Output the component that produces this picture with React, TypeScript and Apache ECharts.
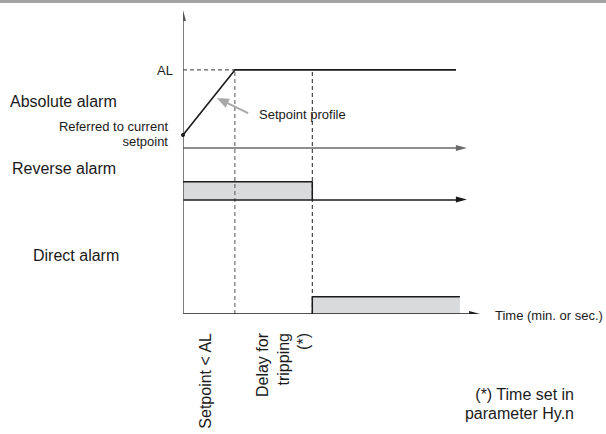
import React, { useEffect, useRef } from "react";
import * as echarts from "echarts";

// ---- data (time units on x, signal level on y) ----
const timeMarks = [1.73, 4.31]; // setpoint reaches AL ; tripping after delay
const alLevel = 80.3;
const setpointTimes = [0, 1.73, 9.1];
const setpointValues = [58.9, 80.3, 80.3];
const reverseTimes = [0, 4.31];
const reverseLevels = [37.7, 43.5];
const directTimes = [4.31, 9.23];
const directLevels = [0, 5.7];
const baselineLevels = [54.6, 37.7, 0]; // absolute, reverse, direct
const baselineEnds = [9.28, 9.28, 9.72];
const baselineColors = ["#6a6a6a", "#1a1a1a", "#1a1a1a"];
const verticalAxisEnd = 98.2;
const pointerFrom = [2.17, 66.1];
const pointerTo = [1.31, 70.2];

const FONT = '"Liberation Sans", Arial, Helvetica, sans-serif';
const INK = "#1a1a1a";
const FILL = "#d9dadc";

export default function App() {
  const ref = useRef<HTMLDivElement>(null);
  useEffect(() => {
    if (!ref.current) return;
    const chart = echarts.init(ref.current, null, { renderer: "svg" });

    const txt = (
      text: string,
      x: number,
      y: number,
      size: number,
      align: string,
      extra: any = {}
    ) => ({
      type: "text",
      x,
      y,
      z: 100,
      ...extra,
      style: {
        text,
        fill: INK,
        font: `${size}px ${FONT}`,
        align,
        verticalAlign: "middle",
        ...(extra.style || {}),
      },
    });

    const arrowSym = { symbol: ["none", "triangle"], symbolSize: [0, [6, 11]] };

    const option: any = {
      animation: false,
      grid: { left: 183, top: 10, width: 300, height: 304, containLabel: false },
      xAxis: { type: "value", min: 0, max: 10, show: false },
      yAxis: { type: "value", min: 0, max: 100, show: false },
      series: [
        {
          type: "custom",
          coordinateSystem: "cartesian2d",
          z: 1,
          data: [
            [reverseTimes[0], reverseTimes[1], reverseLevels[0], reverseLevels[1]],
            [directTimes[0], directTimes[1], directLevels[0], directLevels[1]],
          ],
          encode: { x: [0, 1], y: [2, 3] },
          renderItem: (params: any, api: any) => {
            const p0 = api.coord([api.value(0), api.value(3)]);
            const p1 = api.coord([api.value(1), api.value(2)]);
            return {
              type: "rect",
              shape: { x: p0[0], y: p0[1], width: p1[0] - p0[0], height: p1[1] - p0[1] },
              style: { fill: FILL },
            };
          },
        },
        // vertical dashed time markers
        ...timeMarks.map((t, i) => ({
          type: "line",
          z: 2,
          symbol: "none",
          data: [
            [t, 0],
            [t, alLevel],
          ],
          lineStyle: { color: i === 0 ? "#555" : "#222", width: 1, type: [4, 3] },
        })),
        // AL dashed reference
        {
          type: "line",
          z: 2,
          symbol: "none",
          data: [
            [0, alLevel],
            [timeMarks[0], alLevel],
          ],
          lineStyle: { color: "#333", width: 1, type: [4, 3] },
        },
        // setpoint profile
        {
          type: "line",
          z: 5,
          symbol: "none",
          data: setpointTimes.map((t, i) =>
            i === 0
              ? { value: [t, setpointValues[i]], symbol: "circle", symbolSize: 4, itemStyle: { color: INK } }
              : [t, setpointValues[i]]
          ),
          showSymbol: true,
          lineStyle: { color: INK, width: 1.6 },
        },
        // reverse alarm outline
        {
          type: "line",
          z: 5,
          symbol: "none",
          data: [
            [reverseTimes[0], reverseLevels[1]],
            [reverseTimes[1], reverseLevels[1]],
            [reverseTimes[1], reverseLevels[0]],
          ],
          lineStyle: { color: INK, width: 1.5 },
        },
        // direct alarm outline
        {
          type: "line",
          z: 5,
          symbol: "none",
          data: [
            [directTimes[0], directLevels[0]],
            [directTimes[0], directLevels[1]],
            [directTimes[1], directLevels[1]],
          ],
          lineStyle: { color: INK, width: 1.5 },
        },
        // time axes (baselines) and vertical axis
        {
          type: "lines",
          coordinateSystem: "cartesian2d",
          z: 4,
          ...arrowSym,
          data: [
            ...baselineLevels.map((lv, i) => ({
              coords: [
                [0, lv],
                [baselineEnds[i], lv],
              ],
              lineStyle: { color: baselineColors[i], width: 1.5 },
            })),
            {
              coords: [
                [0, 0],
                [0, verticalAxisEnd],
              ],
              lineStyle: { color: "#555", width: 1.5 },
            },
          ],
          lineStyle: { opacity: 1, curveness: 0 },
        },
        // "Setpoint profile" pointer
        {
          type: "lines",
          coordinateSystem: "cartesian2d",
          z: 4,
          symbol: ["none", "triangle"],
          symbolSize: [0, [10, 12]],
          data: [{ coords: [pointerFrom, pointerTo] }],
          lineStyle: { color: "#a8a8a8", width: 2, opacity: 1 },
        },
      ],
      graphic: [
        { type: "rect", shape: { x: 0, y: 0, width: 606, height: 3 }, style: { fill: "#a3a3a3" } },
        txt("AL", 173, 70, 13, "right"),
        txt("Absolute alarm", 10, 101, 16, "left"),
        txt("Referred to current", 168, 126, 13, "right"),
        txt("setpoint", 168, 141, 13, "right"),
        txt("Setpoint profile", 259, 114, 13, "left"),
        txt("Reverse alarm", 12, 168, 16, "left"),
        txt("Direct alarm", 33, 255, 16, "left"),
        txt("Time (min. or sec.)", 495, 315, 13, "left"),
        txt("Setpoint < AL", 205, 333, 16, "right", { rotation: Math.PI / 2 }),
        txt("Delay for\ntripping\n(*)", 283, 333, 16, "right", {
          rotation: Math.PI / 2,
          style: { lineHeight: 20.5 },
        }),
        txt("(*) Time set in", 574, 394, 16, "right"),
        txt("parameter Hy.n", 574, 413, 16, "right"),
      ],
    };

    chart.setOption(option);
    return () => chart.dispose();
  }, []);

  return (
    <div
      ref={ref}
      style={{ position: "fixed", left: 0, top: 0, width: 606, height: 434, background: "#fff" }}
    />
  );
}
